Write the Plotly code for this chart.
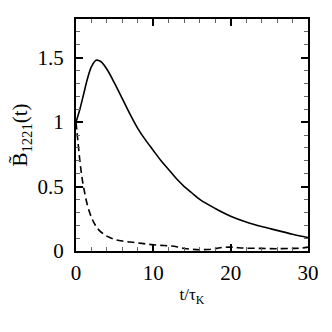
import plotly.graph_objects as go

# solid curve
t_solid = [0, 0.5, 1, 1.5, 2, 2.6, 3.2, 4, 5, 6, 7, 8, 9, 10, 11, 12, 13, 14, 15, 16,
           18, 20, 22, 24, 26, 28, 30]
b_solid = [1.0, 1.10, 1.22, 1.34, 1.43, 1.48, 1.47, 1.41, 1.30, 1.18, 1.06, 0.95, 0.86,
           0.78, 0.70, 0.63, 0.56, 0.50, 0.45, 0.40, 0.33, 0.27, 0.225, 0.19, 0.16, 0.13, 0.105]

# dashed curve
t_dash = [0, 0.25, 0.5, 0.75, 1, 1.5, 2, 2.5, 3, 4, 5, 6, 7, 8, 9, 10, 11, 12, 13, 14,
          15, 16, 17, 18, 19, 20, 21, 22, 24, 26, 28, 29, 30]
b_dash = [1.0, 0.85, 0.70, 0.58, 0.49, 0.35, 0.26, 0.20, 0.16, 0.115, 0.09, 0.077, 0.07,
          0.063, 0.055, 0.048, 0.044, 0.04, 0.033, 0.02, 0.013, 0.01, 0.012, 0.018, 0.028,
          0.03, 0.025, 0.022, 0.02, 0.018, 0.02, 0.022, 0.03]

fig = go.Figure()
fig.add_trace(go.Scatter(x=t_solid, y=b_solid, mode="lines", line=dict(color="black", width=1.6, shape="spline")))
fig.add_trace(go.Scatter(x=t_dash, y=b_dash, mode="lines", line=dict(color="black", width=1.6, dash="7px,4px", shape="spline")))

font = "Times New Roman, Liberation Serif, DejaVu Serif, serif"
axis_common = dict(
    showline=True, linecolor="black", linewidth=2, mirror="allticks",
    ticks="inside", ticklen=7, tickwidth=1.5, tickcolor="black",
    showgrid=False, zeroline=False,
    tickfont=dict(family=font, size=21, color="black"),
)

fig.update_xaxes(range=[0, 30], tickvals=[0, 10, 20, 30],
                 minor=dict(dtick=2, ticks="inside", ticklen=4, tickcolor="#666", tickwidth=1),
                 title=dict(text="t/τ<sub>K</sub>", font=dict(family=font, size=17, color="black"), standoff=4),
                 ticklabelstandoff=2, **axis_common)
fig.update_yaxes(range=[0, 1.8], tickvals=[0, 0.5, 1, 1.5], ticktext=["0", "0.5", "1", "1.5"],
                 minor=dict(dtick=0.1, ticks="inside", ticklen=4, tickcolor="#666", tickwidth=1),
                 title=dict(text="B\u0303<sub>1221</sub>(t)", font=dict(family=font, size=21, color="black"), standoff=4),
                 ticklabelstandoff=6, **axis_common)

# the page adds an 8px body margin, so the margins are shifted to compensate
fig.update_layout(width=332, height=332, showlegend=False,
                  font=dict(family=font, color="black"),
                  margin=dict(l=68, r=32, t=11, b=89, autoexpand=False),
                  plot_bgcolor="white", paper_bgcolor="white")
fig.write_html("out.html")
